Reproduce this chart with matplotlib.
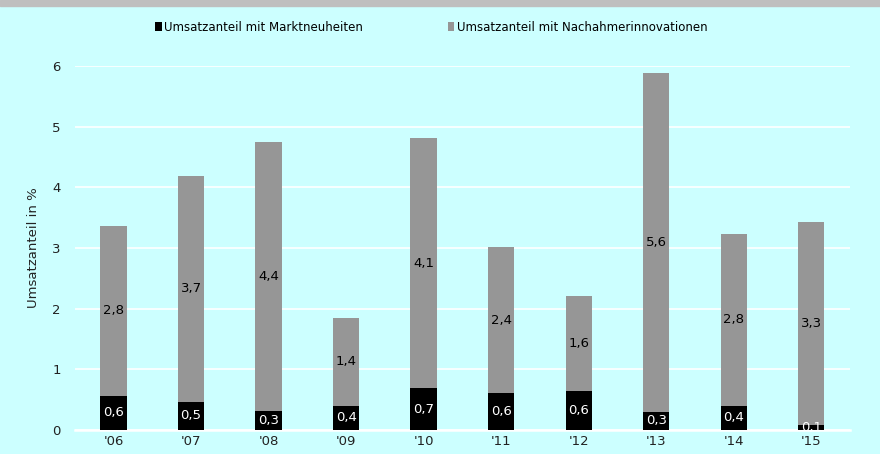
import numpy as np
from matplotlib import pyplot as plt
from matplotlib.patches import Rectangle

years = ["'06", "'07", "'08", "'09", "'10", "'11", "'12", "'13", "'14", "'15"]
markt = [0.56, 0.46, 0.31, 0.40, 0.69, 0.61, 0.64, 0.30, 0.40, 0.08]
nachahmer = [2.80, 3.73, 4.44, 1.44, 4.12, 2.40, 1.56, 5.58, 2.83, 3.34]

BG = "#CCFFFF"
GRAY = "#969696"


def fmt(v):
    return ("%.1f" % v).replace(".", ",")


def main():
    fig = plt.figure(figsize=(8.8, 4.54), dpi=100, facecolor=BG)
    fig.patches.append(Rectangle((0, 1 - 6 / 454), 1, 6 / 454, transform=fig.transFigure,
                                 color="#BFBFBF", zorder=0))
    ax = fig.add_axes([0.085, 0.053, 0.881, 0.802])
    ax.set_facecolor(BG)

    x = np.arange(len(years))
    w = 0.34
    b1 = ax.bar(x, markt, w, color="black", label="Umsatzanteil mit Marktneuheiten", zorder=3)
    b2 = ax.bar(x, nachahmer, w, bottom=markt, color=GRAY,
                label="Umsatzanteil mit Nachahmerinnovationen", zorder=3)

    ax.bar_label(b1, labels=[fmt(v) for v in markt], label_type="center",
                 color="white", fontsize=9.5, zorder=4)
    ax.bar_label(b2, labels=[fmt(v) for v in nachahmer], label_type="center",
                 color="black", fontsize=9.5, zorder=4)

    ax.set_xlim(-0.5, len(years) - 0.5)
    ax.set_ylim(0, 6)
    ax.set_yticks(range(7))
    ax.set_xticks(x)
    ax.set_xticklabels(years)
    ax.yaxis.grid(True, color="white", linewidth=1.2, zorder=0)
    ax.set_axisbelow(True)
    for s in ["top", "right", "left"]:
        ax.spines[s].set_visible(False)
    ax.spines["bottom"].set_color("white")
    ax.spines["bottom"].set_linewidth(1.8)
    ax.tick_params(axis="both", length=0, labelsize=9.5, colors="#222222")
    ax.tick_params(axis="y", pad=10)
    ax.tick_params(axis="x", pad=4)
    ax.set_ylabel("Umsatzanteil in %", fontsize=9.5, color="#222222", labelpad=9)

    fig.legend(loc="center", bbox_to_anchor=(0.49, 0.94), ncol=2, frameon=False,
               fontsize=8.5, handlelength=0.55, handleheight=0.7, handletextpad=0.2,
               columnspacing=7.2)

    fig.savefig("out.png", dpi=100, facecolor=BG)


if __name__ == "__main__":
    main()
